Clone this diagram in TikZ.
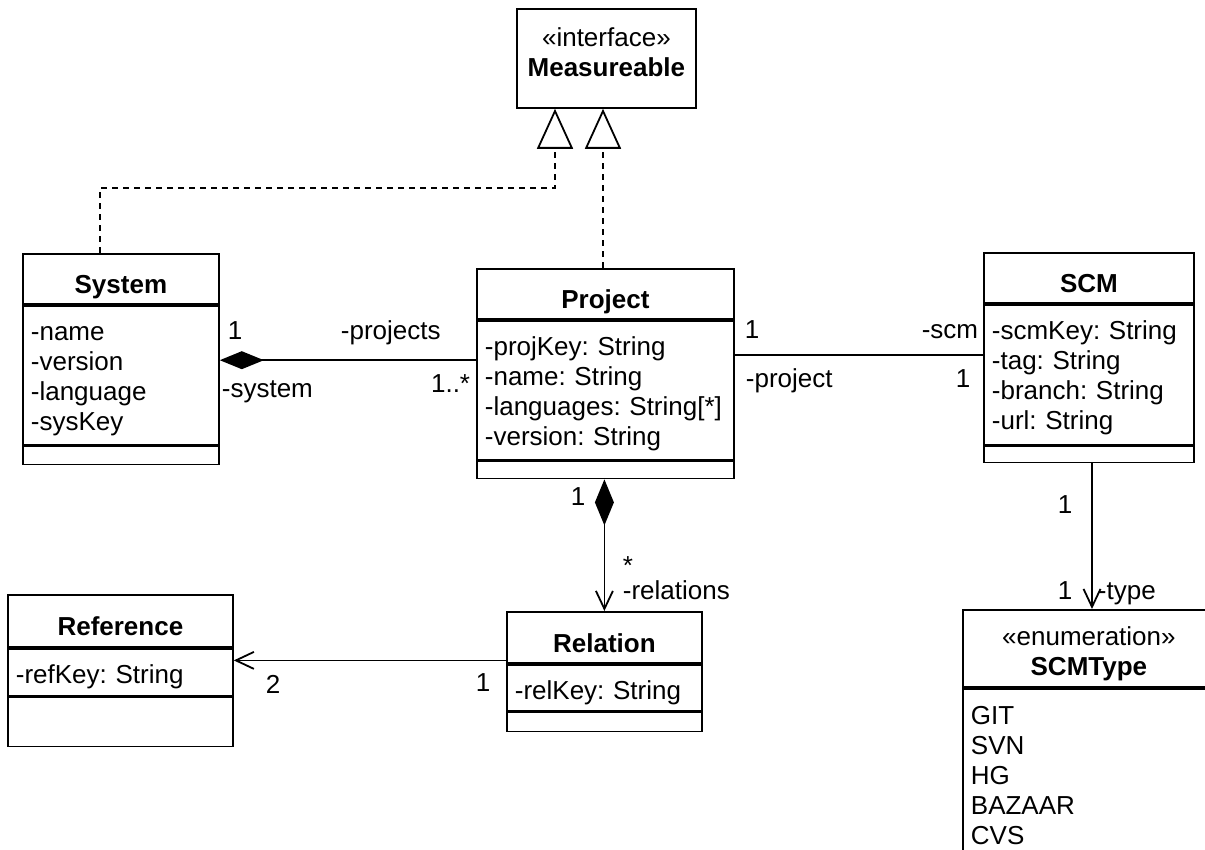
\documentclass[tikz,border=0pt]{standalone}
\usepackage{fontspec}
\setmainfont{Liberation Sans}
\usetikzlibrary{arrows.meta}
\frenchspacing

\tikzset{
  head/.style={draw, anchor=north west, inner sep=0pt, minimum height=50pt, text height=30pt, text depth=0pt, font=\fontsize{26}{30}\selectfont\bfseries},
  attrs/.style={draw, anchor=north west, inner xsep=8pt, inner ysep=0pt, align=left, text height=35pt},
  ops/.style={draw, anchor=north west, inner sep=0pt},
  realize/.style={dash pattern=on 6pt off 5pt, -{Triangle[open, length=40pt, width=36pt]}},
  compose/.style={{Diamond[length=44pt, width=18pt]}-},
  navcompose/.style={{Diamond[length=46pt, width=19pt]}-{Straight Barb[length=18pt, width=17pt]}},
  assoc/.style={-{Straight Barb[length=18pt, width=17pt]}},
  mult/.style={anchor=base, inner sep=0pt},
}

\begin{document}
\begin{tikzpicture}[x=1pt, y=-1pt, line width=1.8pt, font=\fontsize{26}{30}\selectfont]
    \useasboundingbox (0,0) rectangle (1205,850);
    \clip (0,0) rectangle (1205,850);
    % Interface
    \node[draw, anchor=north west, inner sep=0pt, text width=179pt, align=center, text height=38pt, text depth=61pt] (measure) at (516,8) {«interface»\\\textbf{Measureable}};
    % System class
    \begin{scope}[shift={(22,253)}]
        \node[head, minimum width=196pt] (syshead) at (0,0) {System};
        \node[attrs, text width=180pt, text depth=104pt] (sysattr) at (syshead.south west) {-name\\-version\\-language\\-sysKey};
        \node[ops, minimum width=196pt, minimum height=18pt] (sysops) at (sysattr.south west) {};
    \end{scope}
    % Project class
    \begin{scope}[shift={(476,268)}]
        \node[head, minimum width=257pt] (prjhead) at (0,0) {Project};
        \node[attrs, text width=241pt, text depth=104pt] (prjattr) at (prjhead.south west) {-projKey: String\\-name: String\\-languages: String[*]\\-version: String};
        \node[ops, minimum width=257pt, minimum height=17pt] (prjops) at (prjattr.south west) {};
    \end{scope}
    % SCM class
    \begin{scope}[shift={(983,252)}]
        \node[head, minimum width=210pt] (scmhead) at (0,0) {SCM};
        \node[attrs, text width=194pt, text depth=105pt] (scmattr) at (scmhead.south west) {-scmKey: String\\-tag: String\\-branch: String\\-url: String};
        \node[ops, minimum width=210pt, minimum height=16pt] (scmops) at (scmattr.south west) {};
    \end{scope}
    % Reference class
    \begin{scope}[shift={(7,594)}]
        \node[head, minimum width=225pt, minimum height=52pt] (refhead) at (0,0) {Reference};
        \node[attrs, text width=209pt, text depth=12pt] (refattr) at (refhead.south west) {-refKey: String};
        \node[ops, minimum width=225pt, minimum height=49pt] (refops) at (refattr.south west) {};
    \end{scope}
    % Relation class
    \begin{scope}[shift={(506,611)}]
        \node[head, minimum width=195pt, minimum height=51pt] (relhead) at (0,0) {Relation};
        \node[attrs, text width=179pt, text depth=11pt] (relattr) at (relhead.south west) {-relKey: String};
        \node[ops, minimum width=195pt, minimum height=19pt] (relops) at (relattr.south west) {};
    \end{scope}
    % Enumeration
    \begin{scope}[shift={(962,609)}]
        \node[draw, anchor=north west, inner sep=0pt, text width=252pt, align=center, text height=36pt, text depth=41pt] (enumhead) at (0,0) {«enumeration»\\\textbf{SCMType}};
        \node[attrs, text width=236pt, text height=36pt, text depth=150pt] (enumattr) at (enumhead.south west) {GIT\\SVN\\HG\\BAZAAR\\CVS};
    \end{scope}
    % Realizations
    \draw[realize] ([xshift=78pt]syshead.north west) -- ++(0,-65) -| ([xshift=39pt]measure.south west);
    \draw[realize] ([xshift=127pt]prjhead.north west) -- ([xshift=87pt]measure.south west);
    % Associations
    \coordinate (pjsys) at ([yshift=30pt]prjattr.west);
    \draw[compose] (sysattr.east |- pjsys) -- (pjsys);
    \coordinate (pjscm) at ([yshift=35pt]prjattr.east);
    \draw (pjscm) -- (scmattr.west |- pjscm);
    \draw[navcompose] (prjops.south -| relhead.north) -- (relhead.north);
    \coordinate (relref) at ([yshift=-23pt]relhead.west);
    \draw[assoc] (relref) -- (refattr.east |- relref);
    \draw[assoc] ([xshift=109pt]scmops.south west) -- ([xshift=130pt]enumhead.north west);
    % Multiplicities and roles
    \node[mult] (sysone) at (235,340) {1};
    \node[mult, anchor=base west] (projects) at (340,340) {-projects};
    \node[mult, anchor=base west] (system) at (221,397) {-system};
    \node[mult, anchor=base east] (projmany) at (471,392) {1..*};
    \node[mult] (prjone) at (752,339) {1};
    \node[mult, anchor=base east] (scmrole) at (979,339) {-scm};
    \node[mult, anchor=base west] (prjrole) at (745,388) {-project};
    \node[mult] (scmone) at (963,388) {1};
    \node[mult] (relone) at (578,505) {1};
    \node[mult, anchor=base west] (relmany) at (622,574) {*};
    \node[mult, anchor=base west] (relrole) at (622,599) {-relations};
    \node[mult] (refmult) at (273,693) {2};
    \node[mult] (relrefone) at (483,691) {1};
    \node[mult] (scmtypeone) at (1065,513) {1};
    \node[mult] (typeone) at (1065,599) {1};
    \node[mult, anchor=base west] (typerole) at (1097,599) {-type};
\end{tikzpicture}
\end{document}
